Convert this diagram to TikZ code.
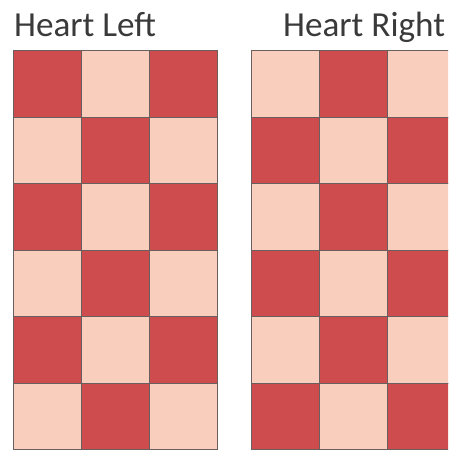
\documentclass[tikz,border=0pt]{standalone}
\usepackage{fontspec}
\setmainfont{Carlito}
\usetikzlibrary{positioning}
\definecolor{heartdark}{RGB}{207,76,78}
\definecolor{heartlight}{RGB}{250,206,188}
\definecolor{gridline}{RGB}{105,95,95}
\definecolor{titlegray}{RGB}{58,58,58}

\begin{document}
\begin{tikzpicture}[
      x=0.03cm,y=-0.03cm,
      cell/.style={draw=gridline,line width=0.7pt,inner sep=0pt,
        minimum width=2.04cm,minimum height=1.995cm,
        anchor=north west},
      title/.style={text=titlegray,inner sep=0pt,anchor=base west,
        font=\fontsize{30}{32}\selectfont}
    ]
      \clip (0,0) rectangle (448,450);
      \fill[white] (0,0) rectangle (448,450);

      % titles
      \node[title] (tleft) at (14,37) {Heart Left};
      \node[title] (tright) at (283,37) {Heart Right};

      % left grid: dark where column+row is even
      \foreach \r in {0,...,5}{
        \foreach \c in {0,...,2}{
          \pgfmathsetmacro{\odd}{int(mod(\c+\r,2))}
          \ifnum\odd=0
            \node[cell,fill=heartdark] (l-\c-\r) at (13+68*\c,50+66.5*\r) {};
          \else
            \node[cell,fill=heartlight] (l-\c-\r) at (13+68*\c,50+66.5*\r) {};
          \fi
        }
      }

      % right grid: dark where column+row is odd
      \foreach \r in {0,...,5}{
        \foreach \c in {0,...,2}{
          \pgfmathsetmacro{\odd}{int(mod(\c+\r,2))}
          \ifnum\odd=1
            \node[cell,fill=heartdark] (r-\c-\r) at (251+68*\c,50+66.5*\r) {};
          \else
            \node[cell,fill=heartlight] (r-\c-\r) at (251+68*\c,50+66.5*\r) {};
          \fi
        }
      }
    \end{tikzpicture}
\end{document}
